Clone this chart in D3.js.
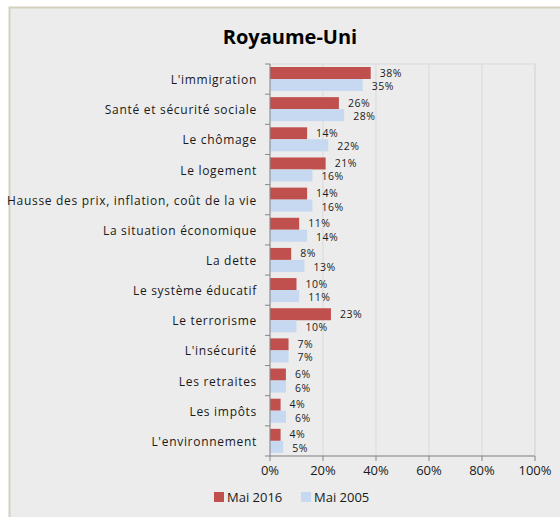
<!DOCTYPE html>
<html>
<head>
<meta charset="UTF-8">
<style>
  body { margin: 0; background: #fff; }
  .cat { font-family: "Open Sans", sans-serif; font-size: 12px; letter-spacing: 0.7px; fill: #1a1a1a; text-anchor: end; }
  .val { font-family: "Open Sans", sans-serif; font-size: 10.5px; letter-spacing: 0.5px; fill: #1a1a1a; }
  .tick-lbl { font-family: "Open Sans", sans-serif; font-size: 13px; fill: #1a1a1a; }
  .title { font-family: "Open Sans", sans-serif; font-size: 20px; font-weight: bold; text-anchor: middle; fill: #000; }
  .legend { font-family: "Open Sans", sans-serif; font-size: 13px; fill: #1a1a1a; }
</style>
</head>
<body>
<svg id="chart" width="560" height="517"></svg>
<script src="https://d3js.org/d3.v7.min.js"></script>
<script>
const categories = ["L'immigration", "Santé et sécurité sociale", "Le chômage", "Le logement",
  "Hausse des prix, inflation, coût de la vie", "La situation économique", "La dette",
  "Le système éducatif", "Le terrorisme", "L'insécurité", "Les retraites", "Les impôts",
  "L'environnement"];
const mai2016 = [38, 26, 14, 21, 14, 11, 8, 10, 23, 7, 6, 4, 4];
const mai2005 = [35, 28, 22, 16, 16, 14, 13, 11, 10, 7, 6, 6, 5];
const seriesNames = ["Mai 2016", "Mai 2005"];
const xTicks = [0, 20, 40, 60, 80, 100];

const colors = ["#c0504d", "#c6d9f1"];

const svg = d3.select("#chart");

// outer chart frame
svg.append("rect")
  .attr("x", 9.5).attr("y", 7.5)
  .attr("width", 560).attr("height", 520)
  .attr("fill", "#ececec")
  .attr("stroke", "#d4d1bd").attr("stroke-width", 2);

svg.append("text").attr("class", "title")
  .attr("x", 290).attr("y", 44)
  .text("Royaume-Uni");

const plotLeft = 270, plotRight = 535, plotTop = 64, plotBottom = 456;

const x = d3.scaleLinear().domain([0, 100]).range([plotLeft, plotRight]);
const y = d3.scaleBand().domain(categories).range([plotTop, plotBottom]);

// plot area border + gridlines
svg.append("rect")
  .attr("x", plotLeft).attr("y", plotTop)
  .attr("width", plotRight - plotLeft).attr("height", plotBottom - plotTop)
  .attr("fill", "none").attr("stroke", "#d9d9d9");

svg.append("g")
  .selectAll("line")
  .data(xTicks.slice(1))
  .join("line")
  .attr("x1", d => x(d)).attr("x2", d => x(d))
  .attr("y1", plotTop).attr("y2", plotBottom)
  .attr("stroke", "#d9d9d9");

// bars
const padTop = 3, barH = 12;
const rows = categories.map((c, i) => ({ cat: c, v: [mai2016[i], mai2005[i]] }));

rows.forEach(r => {
  r.v.forEach((v, k) => {
    const by = y(r.cat) + padTop + k * barH;
    svg.append("rect")
      .attr("x", x(0)).attr("y", by)
      .attr("width", x(v) - x(0)).attr("height", barH)
      .attr("fill", colors[k]);
    svg.append("text").attr("class", "val")
      .attr("x", x(v) + 9).attr("y", by + barH / 2 + 4 + (k === 0 ? -0.5 : 1))
      .text(v + "%");
  });
});

// y axis
const yAxis = svg.append("g")
  .attr("transform", "translate(" + plotLeft + ",0)");
yAxis.append("line")
  .attr("x1", 0).attr("x2", 0).attr("y1", plotTop).attr("y2", plotBottom)
  .attr("stroke", "#868686");
yAxis.selectAll(".ytick")
  .data(d3.range(categories.length + 1))
  .join("line")
  .attr("x1", -5).attr("x2", 0)
  .attr("y1", i => plotTop + i * y.step()).attr("y2", i => plotTop + i * y.step())
  .attr("stroke", "#868686");
svg.append("g").selectAll("text")
  .data(categories)
  .join("text")
  .attr("class", "cat")
  .attr("x", plotLeft - 13)
  .attr("y", d => y(d) + y.bandwidth() / 2 + 5)
  .text(d => d);

// x axis
const xAxis = svg.append("g");
xAxis.append("line")
  .attr("x1", plotLeft).attr("x2", plotRight).attr("y1", plotBottom).attr("y2", plotBottom)
  .attr("stroke", "#868686");
xAxis.selectAll(".xt")
  .data(xTicks)
  .join("line")
  .attr("x1", d => x(d)).attr("x2", d => x(d))
  .attr("y1", plotBottom).attr("y2", plotBottom + 5)
  .attr("stroke", "#868686");
xAxis.selectAll("text")
  .data(xTicks)
  .join("text")
  .attr("class", "tick-lbl")
  .attr("x", d => x(d)).attr("y", plotBottom + 19)
  .attr("text-anchor", "middle")
  .text(d => d + "%");

// legend
const legendX = [214, 301];
seriesNames.forEach((name, k) => {
  svg.append("rect")
    .attr("x", legendX[k]).attr("y", 492)
    .attr("width", 10).attr("height", 10)
    .attr("fill", colors[k]);
  svg.append("text").attr("class", "legend")
    .attr("x", legendX[k] + 13).attr("y", 502)
    .text(name);
});
</script>
</body>
</html>
